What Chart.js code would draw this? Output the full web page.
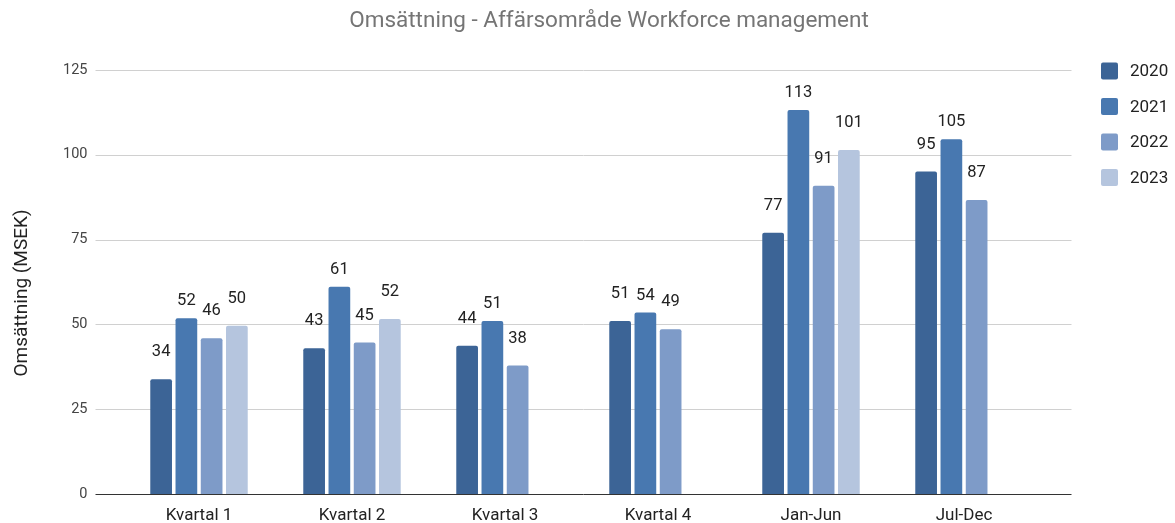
<!DOCTYPE html>
<html lang="sv">
<head>
  <meta charset="UTF-8">
  <title>Omsättning - Affärsområde Workforce management</title>
  <style>
    html, body { margin: 0; padding: 0; overflow: hidden; background: #fff; }
    .chart-container { position: relative; width: 1175px; height: 523px; }
    canvas { display: block; }
  </style>
</head>
<body>
  <div class="chart-container">
    <canvas id="salesChart"></canvas>
  </div>

  <script src="https://cdn.jsdelivr.net/npm/chart.js"></script>
  <script>
    // data
    const categories = ['Kvartal 1', 'Kvartal 2', 'Kvartal 3', 'Kvartal 4', 'Jan-Jun', 'Jul-Dec'];
    const years = ['2020', '2021', '2022', '2023'];
    const values2020 = [33.8, 43.0, 43.7, 51.0, 77.0, 95.1];
    const values2021 = [51.8, 61.1, 51.0, 53.5, 113.2, 104.6];
    const values2022 = [45.9, 44.7, 37.9, 48.6, 90.9, 86.7];
    const values2023 = [49.6, 51.6, null, null, 101.4, null];
    const yTicks = [0, 25, 50, 75, 100, 125];

    const colors = ['#3c6496', '#4878b0', '#7e9bc8', '#b5c5de'];
    const labelOffsets = [27, 17, 27, 27];

    Chart.defaults.font.family = 'Roboto';

    // gridlines a bit wider than the bar area, like the original
    const gridPlugin = {
      id: 'wideGrid',
      beforeDatasetsDraw(chart) {
        const { ctx, chartArea, scales } = chart;
        ctx.save();
        ctx.lineWidth = 1;
        ctx.strokeStyle = '#d0d0d0';
        yTicks.forEach(v => {
          if (v === 0) return;
          const y = Math.round(scales.y.getPixelForValue(v)) + 0.5;
          ctx.beginPath();
          ctx.moveTo(chartArea.left - 27, y);
          ctx.lineTo(chartArea.right + 31, y);
          ctx.stroke();
        });
        ctx.restore();
      },
      afterDatasetsDraw(chart) {
        const { ctx, chartArea, scales } = chart;
        ctx.save();
        ctx.strokeStyle = '#333';
        ctx.lineWidth = 1;
        const y = Math.round(scales.y.getPixelForValue(0)) + 0.5;
        ctx.beginPath();
        ctx.moveTo(chartArea.left - 27, y);
        ctx.lineTo(chartArea.right + 31, y);
        ctx.stroke();

        // value labels
        ctx.font = '16.5px Roboto';
        ctx.fillStyle = '#222';
        ctx.textAlign = 'center';
        ctx.textBaseline = 'middle';
        chart.data.datasets.forEach((ds, i) => {
          const meta = chart.getDatasetMeta(i);
          meta.data.forEach((bar, j) => {
            const v = ds.data[j];
            if (v === null) return;
            ctx.fillText(String(Math.round(v)), bar.x, bar.y - labelOffsets[i]);
          });
        });
        ctx.restore();
      },
      afterDraw(chart) {
        const { ctx } = chart;
        ctx.save();
        // title
        ctx.font = '22.5px Roboto';
        ctx.fillStyle = '#757575';
        ctx.textAlign = 'center';
        ctx.textBaseline = 'middle';
        ctx.fillText('Omsättning - Affärsområde Workforce management', 609, 21);

        // y axis title
        ctx.save();
        ctx.translate(22, 293);
        ctx.rotate(-Math.PI / 2);
        ctx.font = '19px Roboto';
        ctx.fillStyle = '#222';
        ctx.fillText('Omsättning (MSEK)', 0, 0);
        ctx.restore();

        // legend
        ctx.font = '17px Roboto';
        ctx.textAlign = 'left';
        chart.data.datasets.forEach((ds, i) => {
          const cy = 71 + i * 35.5;
          ctx.fillStyle = ds.backgroundColor;
          ctx.beginPath();
          ctx.roundRect(1101, cy - 8.5, 17, 17, 2);
          ctx.fill();
          ctx.fillStyle = '#222';
          ctx.fillText(ds.label, 1130, cy + 1);
        });
        ctx.restore();
      }
    };

    const seriesValues = [values2020, values2021, values2022, values2023];

    const ctx = document.getElementById('salesChart').getContext('2d');
    new Chart(ctx, {
      type: 'bar',
      data: {
        labels: categories,
        datasets: years.map((y, i) => ({
          label: y,
          data: seriesValues[i],
          backgroundColor: colors[i],
          borderRadius: { topLeft: 2, topRight: 2 },
          borderSkipped: 'bottom',
          categoryPercentage: 0.66,
          barPercentage: 0.86
        }))
      },
      options: {
        responsive: true,
        maintainAspectRatio: false,
        animation: false,
        layout: { padding: { top: 70, left: 0, right: 134.5, bottom: 0 } },
        plugins: {
          legend: { display: false },
          title: { display: false },
          tooltip: { enabled: false }
        },
        scales: {
          x: {
            grid: { display: false, drawTicks: false },
            border: { display: false },
            ticks: { color: '#222', font: { size: 17 }, padding: 12 },
            afterFit(scale) { scale.height = 29; }
          },
          y: {
            min: 0,
            max: 125,
            grid: { display: false, drawTicks: false },
            border: { display: false },
            afterBuildTicks(scale) { scale.ticks = yTicks.map(v => ({ value: v })); },
            ticks: { color: '#444', font: { size: 14.5 }, padding: 35 },
            afterFit(scale) {
              scale.width = 122.5;
              // tick padding shouldn't push the plot area up
              scale.paddingTop = 0;
              scale.paddingBottom = 0;
            }
          }
        }
      },
      plugins: [gridPlugin]
    });
  </script>
</body>
</html>
